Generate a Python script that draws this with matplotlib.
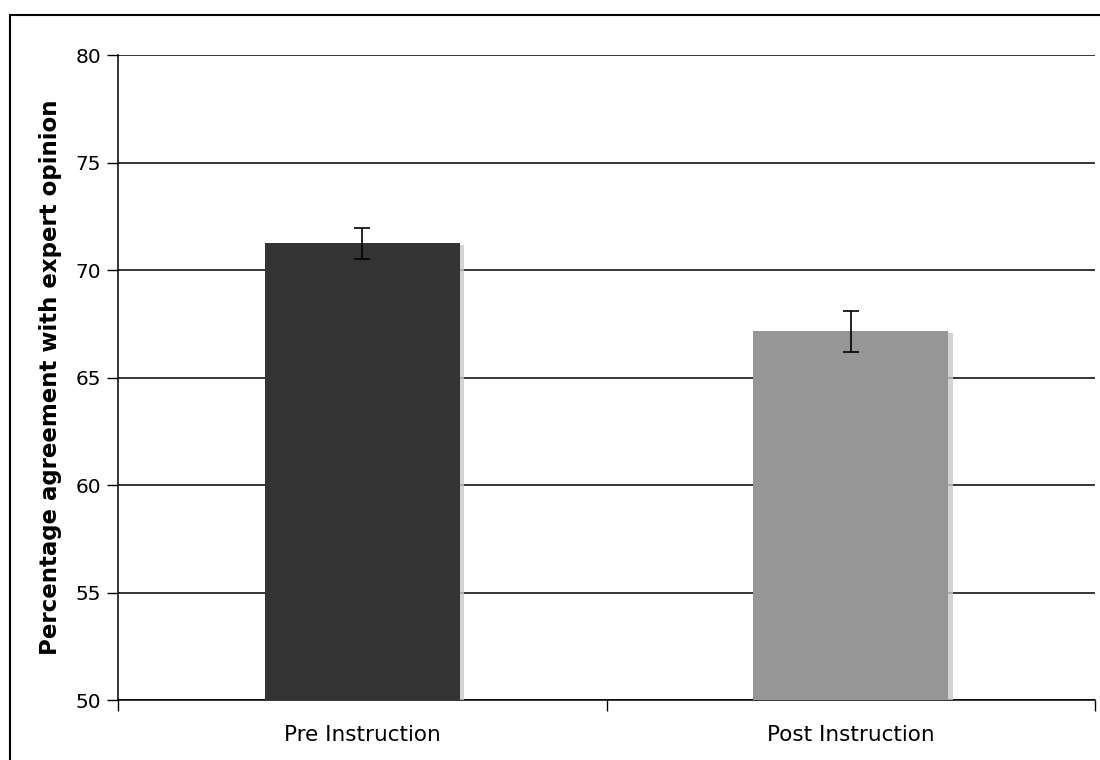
import matplotlib.pyplot as plt
import matplotlib.patheffects as pe
from matplotlib.patches import Rectangle

# data
groups = ['Pre Instruction', 'Post Instruction']
means = [71.25, 67.15]
errors = [0.72, 0.95]
colors = ['#333333', '#969696']

fig = plt.figure(figsize=(11, 7.6), dpi=100)
ax = fig.add_axes([0.1073, 0.0789, 0.8882, 0.8487])

bars = ax.bar(range(len(groups)), [m - 50 for m in means], bottom=50, width=0.4,
              color=colors, zorder=3)
for b in bars:
    b.set_path_effects([pe.SimplePatchShadow(offset=(3, -1), shadow_rgbFace='#c8c8c8', alpha=0.8),
                        pe.Normal()])
ax.errorbar(range(len(groups)), means, yerr=errors, fmt='none', ecolor='black',
            elinewidth=1.2, capsize=6, capthick=1.2, zorder=4)

ax.set_ylim(50, 80)
ax.set_xlim(-0.5, 1.5)
ax.set_yticks(range(50, 81, 5))
ax.yaxis.grid(True, color='black', linewidth=1.1, zorder=0)
ax.set_axisbelow(True)

ax.set_xticks(range(len(groups)))
ax.set_xticklabels(groups, fontsize=15.5)
ax.set_xticks([-0.5, 0.5, 1.5], minor=True)
ax.tick_params(axis='x', which='major', length=0, pad=18)
ax.tick_params(axis='x', which='minor', length=8, width=1, direction='out')
ax.tick_params(axis='y', length=8, width=1, direction='out', labelsize=14.5, pad=4)

for s in ['top', 'right']:
    ax.spines[s].set_visible(False)
ax.spines['left'].set_linewidth(1.1)
ax.spines['bottom'].set_linewidth(1.1)

ax.set_ylabel('Percentage agreement with expert opinion', fontsize=16.5,
              fontweight='bold', labelpad=10)

# outer frame around the chart area
fig.patches.append(Rectangle((10 / 1100, -0.05), 1.1, 1 - 15 / 760 + 0.05,
                             transform=fig.transFigure, fill=False,
                             edgecolor='black', linewidth=1.5))

plt.savefig('out.png', dpi=100)
